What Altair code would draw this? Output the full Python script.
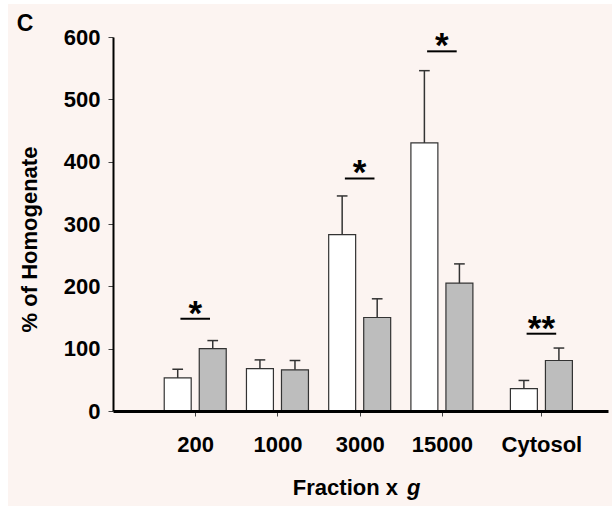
import altair as alt
import pandas as pd

# ---------------- data ----------------
groups = ["200", "1000", "3000", "15000", "Cytosol"]
control_mean = [53, 68, 283, 430, 36]
control_err = [14, 14, 62, 116, 13]
treated_mean = [100, 66, 150, 205, 81]
treated_err = [13, 15, 30, 31, 20]

sig_groups = ["200", "3000", "15000", "Cytosol"]
sig_level = [148, 373, 577, 124]
sig_label = ["*", "*", "*", "**"]

y_ticks = [0, 100, 200, 300, 400, 500, 600]

# ---------------- layout ----------------
group_pos = [1, 2, 3, 4, 5.21]     # slot of each category on the x axis
X_MAX = 6.02
BAR_OFF = 0.213
BAR_HALF = 0.164
CAP_HALF = 0.065
SIG_HALF = 0.18
FONT = "Liberation Sans"
BG = "#FCF4F1"
FS = 22

W, H = 495, 374
PAD = {"left": 113, "top": 37, "right": 4, "bottom": 95}

pos_of = dict(zip(groups, group_pos))

rows = []
for series, means, errs, off in [("control", control_mean, control_err, -BAR_OFF),
                                 ("treated", treated_mean, treated_err, BAR_OFF)]:
    for g, m, e in zip(groups, means, errs):
        c = pos_of[g] + off
        rows.append({"group": g, "series": series, "mean": m, "top": m + e,
                     "xc": c, "x0": c - BAR_HALF, "x1": c + BAR_HALF,
                     "c0": c - CAP_HALF, "c1": c + CAP_HALF})
bars_df = pd.DataFrame(rows)

sig_df = pd.DataFrame({
    "group": sig_groups,
    "level": sig_level,
    "label": sig_label,
    "xl": [pos_of[g] - SIG_HALF for g in sig_groups],
    "xr": [pos_of[g] + SIG_HALF for g in sig_groups],
    "xm": [pos_of[g] for g in sig_groups],
})

label_expr = " : ".join(
    f"datum.value == {p} ? '{g}'" for g, p in zip(groups, group_pos)
) + " : ''"

xscale = alt.Scale(domain=[0, X_MAX], nice=False, zero=False)
yscale = alt.Scale(domain=[0, 600], nice=False)

x_axis = alt.Axis(values=group_pos, labelExpr=label_expr, title=None, grid=False,
                  domainWidth=3, domainColor="black", tickSize=5, tickColor="#444444",
                  tickWidth=1, labelFontSize=FS, labelFontWeight="bold", labelFont=FONT,
                  labelColor="black", labelPadding=18, labelFlush=False,
                  labelOverlap=False, zindex=2)
y_axis = alt.Axis(values=y_ticks, grid=False, domainWidth=2, domainColor="black",
                  tickSize=5, tickColor="#444444", tickWidth=1, labelFontSize=FS,
                  labelFontWeight="bold", labelFont=FONT, labelColor="black",
                  labelPadding=8, title="% of Homogenate", titleFontSize=FS,
                  titleFontWeight="bold", titleFont=FONT, titleColor="black",
                  titleX=-84, titleY=202, titleAngle=270, titleAlign="center",
                  titleBaseline="middle", zindex=2)

bg = alt.Chart(pd.DataFrame({"a": [0]})).mark_rect(color=BG).encode(
    x=alt.value(-105), x2=alt.value(W + PAD["right"]),
    y=alt.value(-33), y2=alt.value(H + PAD["bottom"]))

bars = alt.Chart(bars_df).mark_bar(stroke="#333333", strokeWidth=1.2).encode(
    x=alt.X("x0:Q", scale=xscale, axis=x_axis),
    x2="x1:Q",
    y=alt.Y("mean:Q", scale=yscale, axis=y_axis),
    y2=alt.datum(0),
    fill=alt.Fill("series:N", scale=alt.Scale(domain=["control", "treated"],
                                              range=["#FFFFFF", "#BDBDBD"]), legend=None),
)

err = alt.Chart(bars_df).mark_rule(color="#333333", strokeWidth=1.5).encode(
    x=alt.X("xc:Q", scale=xscale), y=alt.Y("mean:Q", scale=yscale), y2="top:Q")
caps = alt.Chart(bars_df).mark_rule(color="#333333", strokeWidth=1.5).encode(
    x=alt.X("c0:Q", scale=xscale), x2="c1:Q", y=alt.Y("top:Q", scale=yscale))

sig_lines = alt.Chart(sig_df).mark_rule(color="black", strokeWidth=2).encode(
    x=alt.X("xl:Q", scale=xscale), x2="xr:Q", y=alt.Y("level:Q", scale=yscale))
sig_text = alt.Chart(sig_df).mark_text(font=FONT, fontSize=35, fontWeight="bold",
                                       baseline="alphabetic", dy=6, color="black").encode(
    x=alt.X("xm:Q", scale=xscale), y=alt.Y("level:Q", scale=yscale), text="label:N")

panel = alt.Chart(pd.DataFrame({"t": ["C"]})).mark_text(
    font=FONT, fontSize=23, fontWeight="bold", baseline="middle", align="center",
    color="black").encode(x=alt.value(-88), y=alt.value(-13), text="t:N")
xt1 = alt.Chart(pd.DataFrame({"t": ["Fraction x"]})).mark_text(
    font=FONT, fontSize=FS, fontWeight="bold", baseline="alphabetic", align="right",
    color="black").encode(x=alt.value(285), y=alt.value(458), text="t:N")
xt2 = alt.Chart(pd.DataFrame({"t": ["g"]})).mark_text(
    font=FONT, fontSize=FS, fontWeight="bold", fontStyle="italic", baseline="alphabetic",
    align="left", color="black").encode(x=alt.value(294), y=alt.value(458), text="t:N")

chart = alt.layer(bg, bars, err, caps, sig_lines, sig_text, panel, xt1, xt2).properties(
    width=W, height=H, padding=PAD, autosize="none", background="white"
).configure_view(stroke=None)

chart.save("out.html", embed_options={"renderer": "svg", "actions": False})
